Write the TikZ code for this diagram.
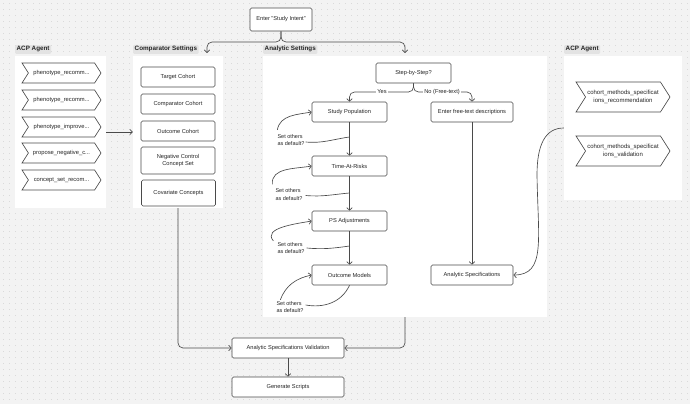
\documentclass[tikz,border=0pt]{standalone}
\usepackage{fontspec}
\setmainfont{Liberation Sans}
\usetikzlibrary{arrows.meta,shapes.symbols,calc}
\definecolor{bgc}{HTML}{F3F3F3}
\definecolor{dotc}{HTML}{DADADA}
\definecolor{linec}{HTML}{4A4A4A}
\definecolor{tagc}{HTML}{E3E3E3}
\begin{document}
\begin{tikzpicture}[x=1pt,y=-1pt,
  panel/.style={fill=white,draw=none,minimum width=#1,inner sep=0pt},
  tag/.style={fill=tagc,rounded corners=1pt,inner sep=1.5pt,font=\fontsize{6.3}{7.3}\selectfont\bfseries,text=black!85,anchor=south west},
  box/.style={draw=linec,line width=0.65pt,rounded corners=1.5pt,fill=white,minimum width=75pt,minimum height=20pt,inner sep=1pt,align=center,font=\fontsize{5.7}{7}\selectfont,text=black!85},
  chev/.style={draw=linec,line width=0.65pt,fill=white,shape=signal,signal from=west,signal to=east,signal pointer angle=115,inner sep=1pt,align=center,font=\fontsize{5.8}{7.2}\selectfont,text=black!85},
  qlabel/.style={align=left,inner sep=0pt,font=\fontsize{5.5}{7.8}\selectfont,text=black!85},
  conn/.style={draw=linec,line width=0.65pt},
  arr/.style={conn,-{Straight Barb[length=2.6pt,width=5.5pt]}},
  onl/.style={fill=white,inner sep=1.2pt,font=\fontsize{5.7}{7}\selectfont,text=black!85}
]
\useasboundingbox (0,0) rectangle (690,404);
\fill[bgc] (0,0) rectangle (690,404);
\foreach \yy in {3,9,...,401}
  \draw[dotc,line width=0.8pt,dash pattern=on 0.8pt off 5.2pt] (3,\yy) -- (690,\yy);

% panels
\node[panel=91pt,minimum height=152pt] (pl) at (60.5,132) {};
\node[panel=90pt,minimum height=152pt] (pc) at (178,132) {};
\node[panel=284pt,minimum height=261pt] (pa) at (405,186.5) {};
\node[panel=118pt,minimum height=144pt] (pr) at (623,128) {};

% tags
\node[tag] (tl) at (15,54) {ACP Agent};
\node[tag] (tc) at (133,54) {Comparator Settings};
\node[tag] (ta) at (263,54) {Analytic Settings};
\node[tag] (tr) at (564,54) {ACP Agent};

% top
\node[box,minimum width=62pt,minimum height=23pt] (intent) at (281,19.5) {Enter "Study Intent"};

% left agent chevrons
\node[chev,minimum width=79pt,minimum height=20pt] (a1) at (61.5,73) {phenotype\_recomm...};
\node[chev,minimum width=79pt,minimum height=20pt] (a2) at (61.5,100) {phenotype\_recomm...};
\node[chev,minimum width=79pt,minimum height=20pt] (a3) at (61.5,127) {phenotype\_improve...};
\node[chev,minimum width=79pt,minimum height=20pt] (a4) at (61.5,153) {propose\_negative\_c...};
\node[chev,minimum width=79pt,minimum height=20pt] (a5) at (61.5,180) {concept\_set\_recom...};

% comparator boxes
\node[box,minimum width=74pt] (c1) at (178,77) {Target Cohort};
\node[box,minimum width=74pt] (c2) at (178,104) {Comparator Cohort};
\node[box,minimum width=74pt] (c3) at (178,131) {Outcome Cohort};
\node[box,minimum width=74pt,minimum height=27pt] (c4) at (178,160.5) {Negative Control\\Concept Set};
\node[box,minimum width=74pt,minimum height=26pt] (c5) at (178.5,193) {Covariate Concepts};

% analytic boxes
\node[box] (step) at (413.5,73) {Step-by-Step?};
\node[box] (sp) at (349.5,112) {Study Population};
\node[box,minimum width=82pt] (ft) at (472,112) {Enter free-text descriptions};
\node[box] (tar) at (349.5,166) {Time-At-Risks};
\node[box] (ps) at (349.5,221) {PS Adjustments};
\node[box] (om) at (349.5,275) {Outcome Models};
\node[box,minimum width=82pt] (as) at (472,275) {Analytic Specifications};

% right agent chevrons
\node[chev,minimum width=94pt,minimum height=30pt,font=\fontsize{6}{7.8}\selectfont] (r1) at (623,97) {cohort\_methods\_specificat\\ions\_recommendation};
\node[chev,minimum width=94pt,minimum height=30pt,font=\fontsize{6}{7.8}\selectfont] (r2) at (623,151) {cohort\_methods\_specificat\\ions\_validation};

% bottom
\node[box,minimum width=112pt] (val) at (288,348) {Analytic Specifications Validation};
\node[box,minimum width=112pt] (gen) at (288,387) {Generate Scripts};

% question labels
\node[qlabel] (q1) at (291,140) {Set others\\as default?};
\node[qlabel] (q2) at (289,194.5) {Set others\\as default?};
\node[qlabel] (q3) at (291,248) {Set others\\as default?};
\node[qlabel] (q4) at (290,307) {Set others\\as default?};

% coordinates
\coordinate (t1) at (207,53);
\coordinate (t2) at (405,53);
\coordinate (m1) at (349.5,137);
\coordinate (m2) at (349.5,193);
\coordinate (m3) at (349.5,246);

% connectors
\draw[arr,rounded corners=5pt] (intent.south) |- (t1 |- 0,42) -- (t1);
\draw[arr,rounded corners=5pt] (intent.south) |- (t2 |- 0,42) -- (t2);
\draw[arr] (pl.east) -- (pc.west);

\draw[arr,rounded corners=5pt] (step.south) |- (sp.north |- 0,92) -- (sp.north);
\draw[arr,rounded corners=5pt] (step.south) |- (ft.north |- 0,92) -- (ft.north);
\node[onl] (yes) at (382,92) {Yes};
\node[onl] (no) at (442,92) {No (Free-text)};

\draw[arr] (sp) -- (tar);
\draw[arr] (tar) -- (ps);
\draw[arr] (ps) -- (om);
\draw[arr] (ft) -- (as);

% set-others curves
\draw[conn] (q1.east) ++(1,2) to[out=-5,in=188] (m1);
\draw[arr] (q1.north west) ++(0,-4) to[out=80,in=190] (sp.west);
\draw[conn] (q2.east) ++(3,1) to[out=-5,in=185] (m2);
\draw[arr] (q2.north west) ++(-3,-4) to[out=95,in=190] (tar.west);
\draw[conn] (q3.east) ++(2,0) to[out=-5,in=188] (m3);
\draw[arr] (q3.north west) ++(-4,-1) to[out=130,in=190] (ps.west);
\draw[conn] (q4.east) ++(2,-2) to[out=-10,in=-115] (om.south);
\draw[arr] (q4.north west) ++(4,-1) to[out=70,in=192] (om.west);

% right agent to analytic specs
\draw[arr] (pr.west) .. controls (545,128) and (537,145) .. (537,175) .. controls (538,240) and (546,275) .. (as.east);

% bottom connections
\draw[arr,rounded corners=5pt] (pc.south) |- (val.west);
\draw[arr,rounded corners=5pt] (pa.south) |- (val.east);
\draw[arr] (val) -- (gen);
\end{tikzpicture}
\end{document}
